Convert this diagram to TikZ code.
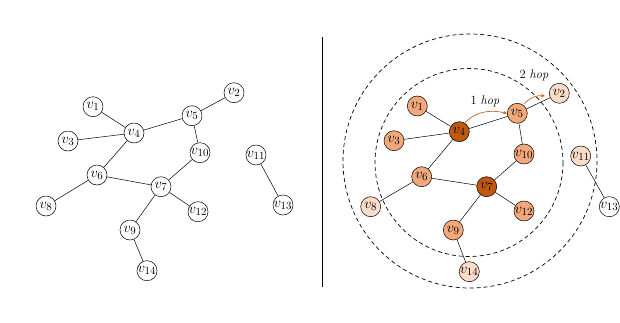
\documentclass[tikz,border=0pt]{standalone}
\usetikzlibrary{arrows.meta,backgrounds}
\definecolor{darkor}{RGB}{192,88,16}
\definecolor{midor}{RGB}{242,168,122}
\definecolor{lightor}{RGB}{251,220,200}
\definecolor{arrowor}{RGB}{205,100,30}
\tikzset{
  vtx/.style={circle,draw=black,line width=0.5pt,minimum size=20pt,inner sep=0pt,fill=white,font=\fontsize{15}{17}\selectfont},
  edge/.style={line width=0.5pt,black},
  hopring/.style={dash pattern=on 4pt off 3pt,line width=0.7pt},
  hoparrow/.style={arrowor,line width=0.7pt,-{Stealth[length=4pt,width=3.5pt]}},
  hoplabel/.style={font=\fontsize{12.5}{14}\selectfont,inner sep=1pt}
}
\begin{document}
\begin{tikzpicture}[x=1pt,y=-1pt]
\useasboundingbox (0,0) rectangle (620,322);
% separator
\coordinate (septop) at (322,37);
\coordinate (sepbot) at (322,287);
\draw[line width=0.5pt] (septop) -- (sepbot);
% left graph
\foreach \n/\x/\y in {1/93/106.7,2/234/92.7,3/68/141,4/134/133,5/192/115.7,6/97/175,7/161/186.7,8/46/206,9/130/230,10/200/152.7,11/256/155,12/198/211.7,13/283/205,14/147/270.7}
  \node[vtx] (a\n) at (\x,\y) {$v_{\n}$};
% right graph
\foreach \n/\x/\y/\c in {1/417.3/106/midor,2/559.3/93.3/lightor,3/394/140.7/midor,4/459.3/131.7/darkor,5/517.3/113.3/midor,6/421.7/176.7/midor,7/486.7/186.7/darkor,8/370.7/206.7/lightor,9/453.3/230/midor,10/524/154/midor,11/580.7/156/lightor,12/524/211/midor,13/609.3/206.7/white,14/469.3/271.7/lightor}
  \node[vtx,fill=\c] (b\n) at (\x,\y) {$v_{\n}$};
\begin{pgfonlayer}{background}
% rings
\coordinate (rc1) at (470,161);
\coordinate (rc2) at (469,162.5);
\draw[hopring] (rc1) circle[radius=127];
\draw[hopring] (rc2) circle[radius=94];
% edges
\foreach \p/\q in {1/4,3/4,4/5,5/2,4/6,5/10,10/7,6/7,6/8,7/12,7/9,9/14,11/13}{
  \draw[edge] (a\p) -- (a\q);
  \draw[edge] (b\p) -- (b\q);
}
\end{pgfonlayer}
% hop arrows
\coordinate (h1s) at (465,123);
\coordinate (h1e) at (507,113.5);
\draw[hoparrow] (h1s) .. controls (474,112) and (490,109) .. (h1e);
\coordinate (h2s) at (524,104);
\coordinate (h2e) at (545,96);
\draw[hoparrow] (h2s) .. controls (530,97) and (538,95) .. (h2e);
\node[hoplabel] (l1) at (485,101) {1 \textit{hop}};
\node[hoplabel] (l2) at (534,75) {2 \textit{hop}};
\end{tikzpicture}
\end{document}
